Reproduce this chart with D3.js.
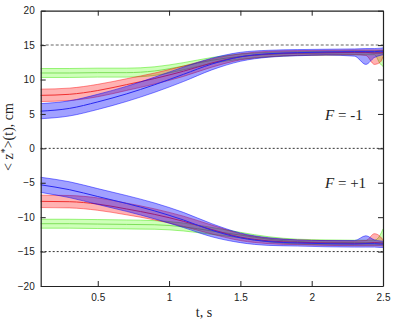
<!DOCTYPE html>
<html><head><meta charset="utf-8">
<script src="https://cdn.jsdelivr.net/npm/d3@7"></script>
<style>body{margin:0;background:#fff}svg{display:block}</style>
</head><body>
<script>
// time grid (s)
const tVals = [0.1,0.3,0.5,0.7,0.9,1.1,1.3,1.5,1.7,1.9,2.1,2.3,2.38,2.44,2.48,2.5];
// F = -1 (upper group)
const blueAMid = [5.4,5.8,6.75,7.9,9.25,10.75,12.25,13.3,13.75,13.9,14.0,14.05,14.05,14.05,14.1,14.1];
const blueAHi  = [6.5,6.9,7.85,9.0,10.35,11.8,13.1,13.95,14.25,14.35,14.4,14.45,14.5,14.5,14.55,14.6];
const blueALo  = [4.3,4.7,5.65,6.8,8.15,9.7,11.4,12.65,13.25,13.45,13.55,13.4,12.2,13.2,13.5,13.6];
const redAMid  = [7.7,7.85,8.4,9.25,10.15,11.2,12.4,13.3,13.7,13.85,13.9,13.95,13.95,13.85,13.9,13.9];
const redAHi   = [8.6,8.75,9.3,10.1,10.95,11.95,13.0,13.75,14.1,14.2,14.25,14.3,14.3,14.3,14.3,14.3];
const redALo   = [6.8,6.95,7.5,8.4,9.35,10.45,11.8,12.85,13.3,13.5,13.55,13.6,13.5,12.2,12.5,13.3];
const greenAMid= [10.95,10.95,11.0,11.0,11.25,11.95,12.8,13.35,13.65,13.8,13.85,13.9,13.9,13.9,13.8,13.9];
const greenAHi = [11.6,11.6,11.65,11.65,11.85,12.45,13.2,13.7,13.95,14.05,14.1,14.15,14.15,14.15,14.2,14.2];
const greenALo = [10.3,10.3,10.35,10.35,10.6,11.4,12.35,12.95,13.3,13.5,13.55,13.6,13.6,13.6,12.3,11.9];
// F = +1 (lower group)
const blueBMid = [-5.3,-6.0,-7.0,-8.0,-9.1,-10.4,-11.9,-13.0,-13.55,-13.75,-13.85,-13.9,-13.85,-13.85,-13.9,-13.9];
const blueBHi  = [-4.2,-4.85,-5.85,-6.85,-7.95,-9.3,-10.95,-12.3,-13.0,-13.3,-13.4,-13.4,-12.7,-13.3,-13.45,-13.5];
const blueBLo  = [-6.4,-7.15,-8.15,-9.15,-10.25,-11.5,-12.85,-13.7,-14.1,-14.2,-14.3,-14.35,-14.35,-14.35,-14.4,-14.4];
const redBMid  = [-7.7,-7.75,-8.1,-8.8,-9.6,-10.6,-11.8,-12.9,-13.45,-13.65,-13.75,-13.8,-13.8,-13.7,-13.75,-13.8];
const redBHi   = [-6.8,-6.85,-7.2,-7.95,-8.8,-9.85,-11.15,-12.4,-13.05,-13.3,-13.4,-13.45,-13.4,-12.4,-12.8,-13.3];
const redBLo   = [-8.6,-8.65,-9.0,-9.65,-10.4,-11.35,-12.45,-13.4,-13.85,-14.0,-14.1,-14.15,-14.15,-14.15,-14.15,-14.2];
const greenBMid= [-10.95,-10.95,-11.0,-11.05,-11.1,-11.4,-12.0,-12.6,-13.2,-13.55,-13.65,-13.7,-13.7,-13.7,-13.7,-13.7];
const greenBHi = [-10.3,-10.3,-10.35,-10.4,-10.5,-10.85,-11.5,-12.2,-12.85,-13.2,-13.3,-13.35,-13.35,-13.35,-12.6,-11.7];
const greenBLo = [-11.6,-11.6,-11.65,-11.7,-11.75,-12.0,-12.5,-13.0,-13.6,-13.9,-14.0,-14.05,-14.05,-14.05,-14.05,-14.05];

const xTicks = [0.5,1,1.5,2,2.5];
const yTicks = [-20,-15,-10,-5,0,5,10,15,20];
const refLines = [15,0,-15];

const W = 399, H = 321;
const m = {l:40.7, r:16, t:10.7, b:35};
const svg = d3.select("body").append("svg").attr("width",W).attr("height",H);
const x = d3.scaleLinear().domain([0.1,2.5]).range([m.l, W-m.r]);
const y = d3.scaleLinear().domain([-20,20]).range([H-m.b, m.t]);

const series = [
  {mid:greenAMid, hi:greenAHi, lo:greenALo, fill:"rgba(120,255,60,0.36)", edge:"rgba(60,230,0,0.6)", line:"#7ee05a"},
  {mid:greenBMid, hi:greenBHi, lo:greenBLo, fill:"rgba(120,255,60,0.36)", edge:"rgba(60,230,0,0.6)", line:"#7ee05a"},
  {mid:redAMid, hi:redAHi, lo:redALo, fill:"rgba(255,0,0,0.3)", edge:"rgba(255,0,0,0.55)", line:"#f03030"},
  {mid:redBMid, hi:redBHi, lo:redBLo, fill:"rgba(255,0,0,0.3)", edge:"rgba(255,0,0,0.55)", line:"#f03030"},
  {mid:blueAMid, hi:blueAHi, lo:blueALo, fill:"rgba(0,0,255,0.37)", edge:"rgba(0,0,255,0.6)", line:"#2828f0"},
  {mid:blueBMid, hi:blueBHi, lo:blueBLo, fill:"rgba(0,0,255,0.37)", edge:"rgba(0,0,255,0.6)", line:"#2828f0"}
];

const curve = d3.curveMonotoneX;
const g = svg.append("g");
series.forEach(s => {
  const pts = tVals.map((t,i)=>({t, lo:s.lo[i], hi:s.hi[i], mid:s.mid[i]}));
  g.append("path").datum(pts)
    .attr("d", d3.area().curve(curve).x(d=>x(d.t)).y0(d=>y(d.lo)).y1(d=>y(d.hi)))
    .attr("fill", s.fill).attr("stroke","none");
  ["lo","hi"].forEach(k=>{
    g.append("path").datum(pts)
      .attr("d", d3.line().curve(curve).x(d=>x(d.t)).y(d=>y(d[k])))
      .attr("fill","none").attr("stroke", s.edge).attr("stroke-width",0.8);
  });
  g.append("path").datum(pts)
    .attr("d", d3.line().curve(curve).x(d=>x(d.t)).y(d=>y(d.mid)))
    .attr("fill","none").attr("stroke", s.line).attr("stroke-width",1);
});

// reference dotted lines
refLines.forEach(v=>{
  svg.append("line").attr("x1",x(0.1)).attr("x2",x(2.5)).attr("y1",y(v)).attr("y2",y(v))
    .attr("stroke", v===15 ? "#999" : "#333")
    .attr("stroke-width", v===15 ? 1.5 : 1)
    .attr("stroke-dasharray", v===15 ? "3,2" : "2,2");
});

// axes (inward ticks, mirrored)
const font = "Liberation Sans, Arial, sans-serif";
const tl = 5;
const axB = svg.append("g").attr("transform",`translate(0,${y(-20)})`)
  .call(d3.axisBottom(x).tickValues(xTicks).tickSizeInner(-tl).tickSizeOuter(0).tickPadding(8).tickFormat(d3.format("")));
const axT = svg.append("g").attr("transform",`translate(0,${y(20)})`)
  .call(d3.axisTop(x).tickValues(xTicks).tickSizeInner(-tl).tickSizeOuter(0).tickFormat(""));
const axL = svg.append("g").attr("transform",`translate(${x(0.1)},0)`)
  .call(d3.axisLeft(y).tickValues(yTicks).tickSizeInner(-tl).tickSizeOuter(0).tickPadding(6));
const axR = svg.append("g").attr("transform",`translate(${x(2.5)},0)`)
  .call(d3.axisRight(y).tickValues(yTicks).tickSizeInner(-tl).tickSizeOuter(0).tickFormat(""));
[axB,axT,axL,axR].forEach(a=>{
  a.select(".domain").attr("stroke","#222").attr("stroke-width",1.2);
  a.selectAll(".tick line").attr("stroke","#222").attr("stroke-width",1);
  a.selectAll("text").attr("font-family",font).attr("font-size",10).attr("fill","#222");
});

// axis labels
svg.append("text").attr("x",204).attr("y",317).attr("text-anchor","middle")
  .attr("font-family","Liberation Serif, Times New Roman, serif").attr("font-size",14).attr("fill","#222")
  .text("t, s");
const yl = svg.append("text").attr("transform","translate(13,137) rotate(-90)").attr("text-anchor","middle")
  .attr("font-family","Liberation Serif, Times New Roman, serif").attr("font-size",14).attr("fill","#222");
yl.append("tspan").text("< z");
yl.append("tspan").attr("dy",-5).attr("font-size",10).text("*");
yl.append("tspan").attr("dy",5).text(">(t), cm");

// F annotations
const ann = [{txt:"-1", yy:120},{txt:"+1", yy:188}];
ann.forEach(a=>{
  const t = svg.append("text").attr("x",325).attr("y",a.yy)
    .attr("font-family","Liberation Serif, Times New Roman, serif").attr("font-size",15).attr("fill","#222");
  t.append("tspan").attr("font-style","italic").text("F");
  t.append("tspan").text(" = " + a.txt);
});
</script>
</body></html>
